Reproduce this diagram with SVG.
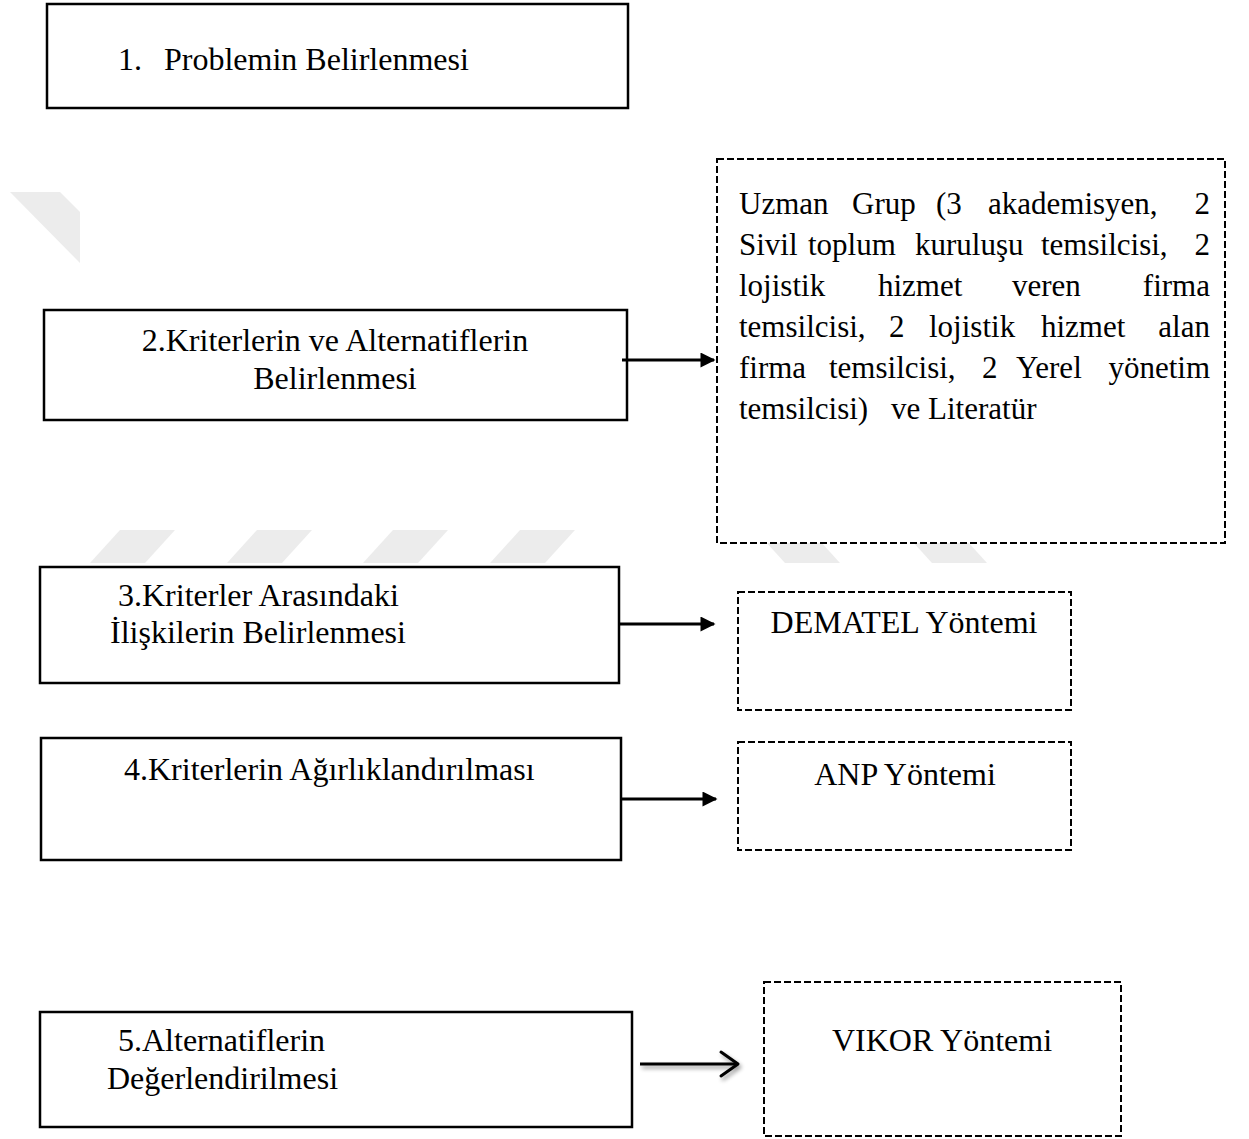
<svg xmlns="http://www.w3.org/2000/svg" width="1249" height="1139" viewBox="0 0 1249 1139">
<defs>
<style>
.box{fill:#fff;stroke:#000;stroke-width:2.5}
.dbox{fill:#fff;stroke:#000;stroke-width:2;stroke-dasharray:7 3}
.t{font-family:"Liberation Serif","Times New Roman",serif;font-size:32px;fill:#000}
.c{font-family:"Liberation Serif","Times New Roman",serif;font-size:31px;fill:#000}
.wm{fill:#ececec}
.conn{stroke:#000;stroke-width:3;fill:none}
</style>
<marker id="tri" viewBox="0 0 10 10" refX="9" refY="5" markerWidth="5.5" markerHeight="5" orient="auto" markerUnits="strokeWidth">
<path d="M0,0 L10,5 L0,10 z" fill="#000"/>
</marker>
<filter id="sh" x="-10%" y="-50%" width="130%" height="250%">
<feGaussianBlur in="SourceAlpha" stdDeviation="2"/>
<feOffset dx="2" dy="3" result="b"/>
<feComponentTransfer><feFuncA type="linear" slope="0.4"/></feComponentTransfer>
<feMerge><feMergeNode/><feMergeNode in="SourceGraphic"/></feMerge>
</filter>
</defs>
<rect width="1249" height="1139" fill="#fff"/>
<g id="watermark">
<polygon class="wm" points="10,192 60,192 80,212 80,263"/>
<polygon class="wm" points="90,563 145,563 175,530 120,530"/>
<polygon class="wm" points="227,563 282,563 312,530 257,530"/>
<polygon class="wm" points="363,563 418,563 448,530 393,530"/>
<polygon class="wm" points="490,563 545,563 575,530 520,530"/>
<polygon class="wm" points="755,530 810,530 840,563 785,563"/>
<polygon class="wm" points="902,530 957,530 987,563 932,563"/>
</g>
<g id="n1">
<rect class="box" x="47" y="4" width="581" height="104"/>
<text class="t" x="118" y="70">1.<tspan x="164">Problemin Belirlenmesi</tspan></text>
</g>
<g id="n2">
<rect class="box" x="44" y="310" width="583" height="110"/>
<text class="t" x="335" y="351" text-anchor="middle">2.Kriterlerin ve Alternatiflerin</text>
<text class="t" x="335" y="389" text-anchor="middle">Belirlenmesi</text>
</g>
<g id="n2b">
<rect class="dbox" x="717" y="159" width="508" height="384"/>
<text class="c" y="214"><tspan x="739">Uzman</tspan><tspan x="852">Grup</tspan><tspan x="936">(3</tspan><tspan x="988">akademisyen,</tspan><tspan x="1210" text-anchor="end">2</tspan></text>
<text class="c" y="255"><tspan x="739">Sivil</tspan><tspan x="808">toplum</tspan><tspan x="915">kuruluşu</tspan><tspan x="1041">temsilcisi,</tspan><tspan x="1210" text-anchor="end">2</tspan></text>
<text class="c" y="296"><tspan x="739">lojistik</tspan><tspan x="878">hizmet</tspan><tspan x="1012">veren</tspan><tspan x="1210" text-anchor="end">firma</tspan></text>
<text class="c" y="337"><tspan x="739">temsilcisi,</tspan><tspan x="889">2</tspan><tspan x="929">lojistik</tspan><tspan x="1041">hizmet</tspan><tspan x="1210" text-anchor="end">alan</tspan></text>
<text class="c" y="378"><tspan x="739">firma</tspan><tspan x="829">temsilcisi,</tspan><tspan x="982">2</tspan><tspan x="1016">Yerel</tspan><tspan x="1210" text-anchor="end">yönetim</tspan></text>
<text class="c" y="419"><tspan x="739">temsilcisi)</tspan><tspan x="891">ve Literatür</tspan></text>
</g>
<g id="n3">
<rect class="box" x="40" y="567" width="579" height="116"/>
<text class="t" x="118" y="606">3.Kriterler Arasındaki</text>
<text class="t" x="110" y="643">İlişkilerin Belirlenmesi</text>
</g>
<g id="n3b">
<rect class="dbox" x="738" y="592" width="333" height="118"/>
<text class="t" x="904" y="633" text-anchor="middle">DEMATEL Yöntemi</text>
</g>
<g id="n4">
<rect class="box" x="41" y="738" width="580" height="122"/>
<text class="t" x="124" y="780">4.Kriterlerin Ağırlıklandırılması</text>
</g>
<g id="n4b">
<rect class="dbox" x="738" y="742" width="333" height="108"/>
<text class="t" x="905" y="785" text-anchor="middle">ANP Yöntemi</text>
</g>
<g id="n5">
<rect class="box" x="40" y="1012" width="592" height="115"/>
<text class="t" x="118" y="1051">5.Alternatiflerin</text>
<text class="t" x="107" y="1089">Değerlendirilmesi</text>
</g>
<g id="n5b">
<rect class="dbox" x="764" y="982" width="357" height="154"/>
<text class="t" x="942" y="1051" text-anchor="middle">VIKOR Yöntemi</text>
</g>
<g id="connectors">
<line class="conn" x1="622" y1="360" x2="714" y2="360" marker-end="url(#tri)"/>
<line class="conn" x1="619" y1="624" x2="714" y2="624" marker-end="url(#tri)"/>
<line class="conn" x1="621" y1="799" x2="716" y2="799" marker-end="url(#tri)"/>
<g filter="url(#sh)">
<line class="conn" x1="640" y1="1064" x2="736" y2="1064"/>
<polyline class="conn" points="721,1052 738,1064 721,1076" stroke-width="4" stroke-linecap="round" stroke-linejoin="round"/>
</g>
</g>
</svg>
